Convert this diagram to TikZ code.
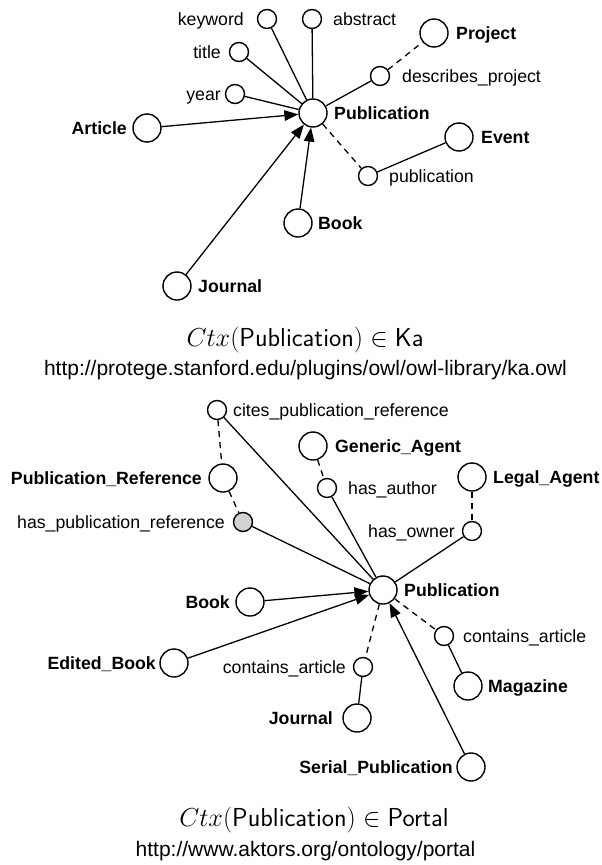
\documentclass[tikz,border=0pt]{standalone}
\usepackage{fix-cm}
\usepackage{fontspec}
\newfontfamily\hv{Liberation Sans}
\usetikzlibrary{arrows.meta}
\begin{document}
\begin{tikzpicture}[x=1pt,y=-1pt,
  big/.style={circle,draw,line width=1.4pt,minimum size=28pt,inner sep=0pt},
  small/.style={circle,draw,line width=1.4pt,minimum size=19pt,inner sep=0pt},
  lab/.style={font=\hv\fontsize{17.7}{20}\selectfont,inner sep=0pt},
  blab/.style={font=\hv\bfseries\fontsize{17.7}{20}\selectfont,inner sep=0pt},
  edge/.style={line width=1.3pt},
  dsh/.style={line width=1.3pt,dash pattern=on 6pt off 5pt},
  arr/.style={line width=1.3pt,-{Triangle[length=14pt,width=10.5pt]}},
  capt/.style={font=\fontsize{26}{30}\selectfont,inner sep=0pt,anchor=base},
  url/.style={font=\hv\fontsize{21}{24}\selectfont,inner sep=0pt,anchor=base}
]
\useasboundingbox (0,0) rectangle (602,865);
% ---------- top graph ----------
\node[big]   (P1) at (313,113) {};
\node[small] (kw) at (267,19) {};
\node[small] (ab) at (312,19) {};
\node[small] (ti) at (239,52) {};
\node[small] (ye) at (235,94) {};
\node[big]   (ar) at (147,128) {};
\node[big]   (pr) at (434,33) {};
\node[small] (dp) at (380,76) {};
\node[big]   (ev) at (459,137) {};
\node[small] (pu) at (368,176) {};
\node[big]   (bk) at (298,223) {};
\node[big]   (jo) at (177,286) {};

\node[blab,anchor=base west] (lP1) at (334,119) {Publication};
\node[lab,anchor=base east]  (lkw) at (244,25) {keyword};
\node[lab,anchor=base west]  (lab) at (333,25) {abstract};
\node[lab,anchor=base east]  (lti) at (221,58) {title};
\node[lab,anchor=base east]  (lye) at (221,100) {year};
\node[blab,anchor=base east] (lar) at (127,134) {Article};
\node[blab,anchor=base west] (lpr) at (456,39) {Project};
\node[lab,anchor=base west]  (ldp) at (402,82) {describes\_project};
\node[blab,anchor=base west] (lev) at (481,143) {Event};
\node[lab,anchor=base west]  (lpu) at (389,182) {publication};
\node[blab,anchor=base west] (lbk) at (318,229) {Book};
\node[blab,anchor=base west] (ljo) at (198,292) {Journal};

\draw[edge] (kw) -- (P1);
\draw[edge] (ab) -- (P1);
\draw[edge] (ti) -- (P1);
\draw[edge] (ye) -- (P1);
\draw[arr]  (ar) -- (P1);
\draw[arr]  (bk) -- (P1);
\draw[arr]  (jo) -- (P1);
\draw[edge] (P1) -- (dp);
\draw[dsh]  (dp) -- (pr);
\draw[dsh]  (P1) -- (pu);
\draw[edge] (pu) -- (ev);

\node[capt] (cap1) at (305,346) {$Ctx(\textsf{Publication})\in\textsf{Ka}$};
\node[url]  (url1) at (305.5,375) {http://protege.stanford.edu/plugins/owl/owl-library/ka.owl};

% ---------- bottom graph ----------
\node[big]   (P2)  at (383,590) {};
\node[small] (cpr) at (217,410) {};
\node[big]   (prf) at (223,478) {};
\node[small,fill={rgb,255:red,210;green,210;blue,210}] (hpr) at (243,522) {};
\node[big]   (ga)  at (313,446) {};
\node[small] (ha)  at (327,488) {};
\node[big]   (la)  at (472,477) {};
\node[small] (ho)  at (472,531) {};
\node[big]   (bk2) at (250,602) {};
\node[big]   (eb)  at (174,663) {};
\node[small] (ca1) at (444,636) {};
\node[big]   (mg)  at (468,686) {};
\node[small] (ca2) at (363,667) {};
\node[big]   (jo2) at (357,718) {};
\node[big]   (sp)  at (471,767) {};

\node[blab,anchor=base west] (lP2)  at (404,596) {Publication};
\node[lab,anchor=base west]  (lcpr) at (233,416) {cites\_publication\_reference};
\node[blab,anchor=base east] (lprf) at (202,484) {Publication\_Reference};
\node[lab,anchor=base east]  (lhpr) at (225,528) {has\_publication\_reference};
\node[blab,anchor=base west] (lga)  at (335,452) {Generic\_Agent};
\node[lab,anchor=base west]  (lha)  at (348,494) {has\_author};
\node[blab,anchor=base west] (lla)  at (493,483) {Legal\_Agent};
\node[lab,anchor=base east]  (lho)  at (455,537) {has\_owner};
\node[blab,anchor=base east] (lbk2) at (230,608) {Book};
\node[blab,anchor=base east] (leb)  at (156,669) {Edited\_Book};
\node[lab,anchor=base west]  (lca1) at (463,642) {contains\_article};
\node[blab,anchor=base west] (lmg)  at (488,692) {Magazine};
\node[lab,anchor=base east]  (lca2) at (346,673) {contains\_article};
\node[blab,anchor=base east] (ljo2) at (333,724) {Journal};
\node[blab,anchor=base east] (lsp)  at (453,773) {Serial\_Publication};

\draw[dsh]  (cpr) -- (prf);
\draw[edge] (cpr) -- (P2);
\draw[dsh]  (prf) -- (hpr);
\draw[edge] (hpr) -- (P2);
\draw[dsh]  (ga) -- (ha);
\draw[edge] (ha) -- (P2);
\draw[dsh]  (la) -- (ho);
\draw[edge] (ho) -- (P2);
\draw[arr]  (bk2) -- (P2);
\draw[arr]  (eb) -- (P2);
\draw[arr]  (sp) -- (P2);
\draw[dsh]  (P2) -- (ca1);
\draw[edge] (ca1) -- (mg);
\draw[dsh]  (P2) -- (ca2);
\draw[edge] (ca2) -- (jo2);

\node[capt] (cap2) at (314,826) {$Ctx(\textsf{Publication})\in\textsf{Portal}$};
\node[url]  (url2) at (305.5,856) {http://www.aktors.org/ontology/portal};
\end{tikzpicture}
\end{document}
